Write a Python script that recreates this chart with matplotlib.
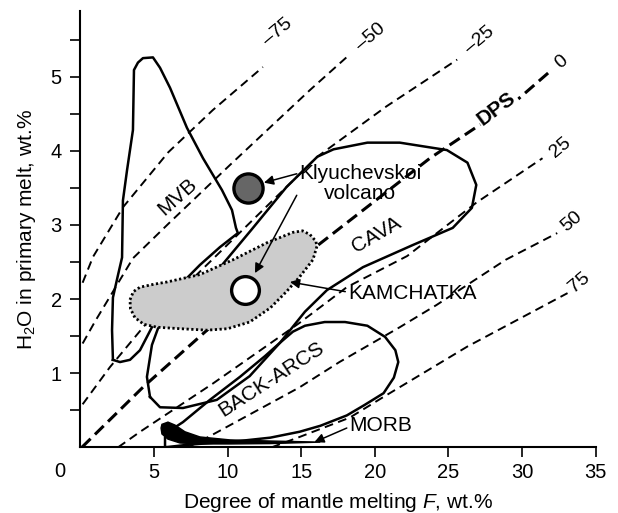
import matplotlib
matplotlib.use('Agg')
import matplotlib.pyplot as plt

plt.rcParams['font.family'] = ['Liberation Sans', 'DejaVu Sans']
plt.rcParams['mathtext.fontset'] = 'custom'
plt.rcParams['mathtext.rm'] = 'Liberation Sans'
plt.rcParams['mathtext.it'] = 'Liberation Sans:italic'

# dashed isolines (label, F, H2O)
iso_labels = ['\u201375', '\u201350', '\u201325', '0', '25', '50', '75']
iso_x = [
    [0.15, 0.86, 2.9, 5.97, 9.0, 12.4],
    [0.15, 1.0, 2.15, 3.57, 6.0, 10.17, 15.6, 18.3],
    [0.15, 2.0, 4.39, 9.0, 16.1, 20.8, 25.6],
    [0.1, 4.3, 8.6, 16.1, 23.75, 29.7, 31.9],
    [2.56, 4.06, 9.0, 14.9, 18.1, 22.2, 26.9, 31.4],
    [7.3, 8.7, 14.9, 17.6, 21.7, 24.2, 28.9, 32.4],
    [13.0, 14.9, 18.3, 20.6, 26.3, 33.1],
]
iso_y = [
    [2.22, 2.57, 3.24, 3.98, 4.55, 5.13],
    [1.40, 1.70, 2.08, 2.55, 3.02, 3.81, 4.82, 5.30],
    [0.58, 1.08, 1.65, 2.54, 3.92, 4.60, 5.23],
    [0.0, 0.82, 1.58, 2.72, 3.90, 4.69, 5.07],
    [0.0, 0.21, 0.86, 1.68, 2.16, 2.58, 3.30, 3.90],
    [0.0, 0.14, 0.81, 1.15, 1.62, 1.92, 2.53, 2.89],
    [0.0, 0.14, 0.40, 0.68, 1.36, 2.08],
]
iso_lab_x = [13.4, 19.7, 27.1, 32.7, 32.6, 33.4, 33.9]
iso_lab_y = [5.60, 5.54, 5.50, 5.20, 4.04, 3.04, 2.22]

# fields
mvb_x = [2.21, 2.15, 2.21, 2.55, 2.83, 2.89, 3.17, 3.37, 3.57, 3.64, 3.91, 4.25,
         4.93, 5.41, 6.09, 7.24, 8.33, 9.62, 10.3, 10.57, 10.7, 9.48, 8.12,
         6.43, 5.41, 4.86, 4.05, 3.37, 2.69, 2.21]
mvb_y = [1.18, 1.58, 2.02, 2.32, 2.56, 3.33, 3.74, 4.01, 4.28, 5.09, 5.19, 5.25,
         5.26, 5.12, 4.85, 4.31, 3.90, 3.47, 3.20, 2.96, 2.89, 2.70, 2.46,
         2.12, 1.85, 1.62, 1.31, 1.18, 1.15, 1.18]

cava_x = [4.73, 5.41, 6.97, 9.27, 11.5, 13.56, 15.26, 16.75, 19.2, 22.6, 25.3,
          26.6, 26.9, 26.3, 24.9, 21.7, 19.5, 17.2, 16.1, 14.0, 11.6, 9.5,
          7.2, 5.54, 4.86, 4.52, 4.73]
cava_y = [0.68, 0.54, 0.53, 0.64, 0.96, 1.41, 1.83, 2.12, 2.43, 2.73, 2.96,
          3.23, 3.54, 3.84, 4.01, 4.11, 4.11, 4.02, 3.92, 3.51, 2.93, 2.43,
          2.05, 1.75, 1.38, 0.95, 0.68]

backarc_x = [5.75, 5.75, 6.43, 6.97, 8.8, 10.84, 12.54, 13.56, 14.44, 15.26,
             16.6, 17.98, 19.5, 20.7, 21.4, 21.6, 21.3, 20.6, 19.3, 18.1, 16.3,
             14.9, 12.9, 10.8, 8.8, 7.1, 5.75]
backarc_y = [0.0, 0.14, 0.27, 0.34, 0.64, 0.95, 1.23, 1.41, 1.56, 1.64,
             1.69, 1.69, 1.64, 1.49, 1.31, 1.15, 0.94, 0.73, 0.57, 0.43, 0.29,
             0.21, 0.13, 0.085, 0.058, 0.03, 0.0]

morb_x = [5.54, 5.95, 6.43, 7.1, 8.12, 10.16, 12.88, 16.3, 12.88, 10.16, 8.12,
          6.77, 5.95, 5.54, 5.48]
morb_y = [0.31, 0.34, 0.30, 0.21, 0.14, 0.10, 0.085, 0.07, 0.05, 0.045, 0.045,
          0.058, 0.11, 0.18, 0.26]

kam_x = [3.37, 3.6, 4.05, 5.0, 5.88, 8.12, 10.37, 12.68, 14.45, 15.1, 15.6, 16.0,
         16.07, 15.8, 14.9, 14.0, 12.9, 11.5, 10.0, 8.6, 6.8, 5.2, 4.3, 3.7, 3.4]
kam_y = [1.99, 2.10, 2.16, 2.20, 2.23, 2.33, 2.53, 2.76, 2.90, 2.92, 2.87, 2.78,
         2.71, 2.53, 2.30, 2.10, 1.88, 1.69, 1.60, 1.58, 1.60, 1.62, 1.66, 1.75, 1.87]

klyu_pt = (11.4, 3.50)
kam_pt = (11.2, 2.12)

fig = plt.figure(figsize=(6.18, 5.13), dpi=100)
ax = fig.add_axes([80.4 / 618, 65.7 / 513, 515.1 / 618, 436.6 / 513])

for i, lab in enumerate(iso_labels):
    if lab == '0':
        ax.plot(iso_x[i], iso_y[i], color='black', lw=2.2, dashes=(4, 2), zorder=1)
    else:
        ax.plot(iso_x[i], iso_y[i], color='black', lw=1.4, dashes=(4.5, 2.8), zorder=1)
    ax.text(iso_lab_x[i], iso_lab_y[i], lab, fontsize=14, rotation=40,
            ha='center', va='center')

ax.text(28.3, 4.57, 'DPS', fontsize=15, fontweight='bold', rotation=37,
        ha='center', va='center', zorder=2,
        bbox=dict(facecolor='white', edgecolor='none', pad=1))

for xs, ys in [(mvb_x, mvb_y), (cava_x, cava_y), (backarc_x, backarc_y)]:
    ax.plot(xs, ys, color='black', lw=1.8, solid_joinstyle='round', zorder=3)

ax.fill(morb_x, morb_y, color='black', zorder=3)

ax.fill(kam_x + kam_x[:1], kam_y + kam_y[:1], facecolor='#cccccc',
        edgecolor='black', lw=2.0, linestyle=(0, (0.8, 0.9)), zorder=4)

ax.plot(*klyu_pt, 'o', ms=21, mfc='#666666', mec='black', mew=2.4, zorder=6)
ax.plot(*kam_pt, 'o', ms=20, mfc='white', mec='black', mew=2.4, zorder=6)

arrow = dict(arrowstyle='-|>', color='black', lw=1.1, mutation_scale=14,
             shrinkA=0, shrinkB=0)
ax.annotate('', xy=(12.47, 3.57), xytext=(14.7, 3.69), arrowprops=arrow, zorder=7)
ax.annotate('', xy=(11.86, 2.35), xytext=(14.7, 3.40), arrowprops=arrow, zorder=7)
ax.annotate('', xy=(14.24, 2.23), xytext=(18.0, 2.10), arrowprops=arrow, zorder=7)
ax.annotate('', xy=(15.9, 0.07), xytext=(18.1, 0.26), arrowprops=arrow, zorder=7)

ax.text(19.0, 3.56, 'Klyuchevskoi\nvolcano', fontsize=15, ha='center',
        va='center', linespacing=1.1)
ax.text(18.2, 2.08, 'KAMCHATKA', fontsize=15, ha='left', va='center')
ax.text(18.3, 0.29, 'MORB', fontsize=15, ha='left', va='center')
ax.text(6.57, 3.38, 'MVB', fontsize=15, rotation=42, ha='center', va='center')
ax.text(20.15, 2.86, 'CAVA', fontsize=15, rotation=30, ha='center', va='center')
ax.text(13.0, 0.92, 'BACK-ARCS', fontsize=15, rotation=33, ha='center', va='center')

ax.set_xlim(0, 35)
ax.set_ylim(0, 5.89)
ax.spines['top'].set_visible(False)
ax.spines['right'].set_visible(False)
for s in ['left', 'bottom']:
    ax.spines[s].set_linewidth(1.5)
ax.set_xticks([5, 10, 15, 20, 25, 30, 35])
ax.set_yticks([0.5, 1, 1.5, 2, 2.5, 3, 3.5, 4, 4.5, 5, 5.5])
ax.set_yticklabels(['', '1', '', '2', '', '3', '', '4', '', '5', ''])
ax.tick_params(axis='x', direction='out', length=7, width=1.2, pad=4.5, labelsize=14.5)
ax.tick_params(axis='y', direction='out', length=7, width=1.2, pad=6.5, labelsize=14.5)
ax.text(-1.39, -0.33, '0', fontsize=14.5, ha='center', va='center', clip_on=False)

ax.set_xlabel('Degree of mantle melting $F$, wt.%', fontsize=15, labelpad=6)
ax.set_ylabel('H$_2$O in primary melt, wt.%', fontsize=15, labelpad=9)

fig.savefig('out.png', dpi=100)
